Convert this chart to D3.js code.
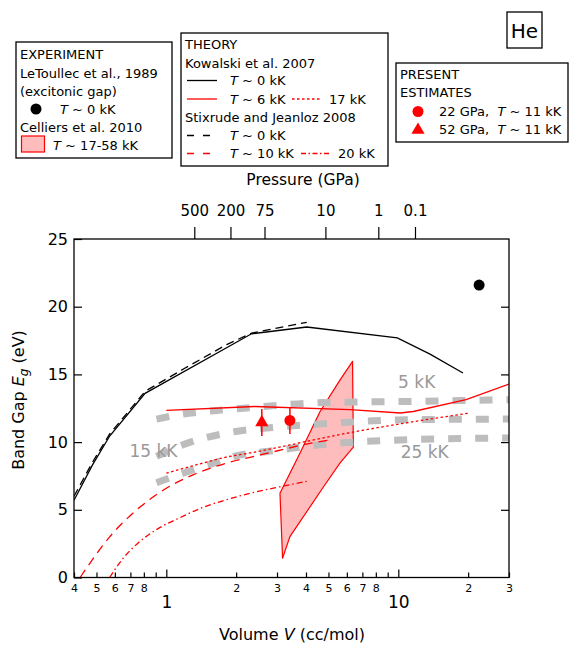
<!DOCTYPE html>
<html>
<head>
<meta charset="utf-8">
<script src="https://cdn.jsdelivr.net/npm/d3@7"></script>
<style>
  body { margin: 0; background: #fff; }
  text { font-family: "DejaVu Sans", sans-serif; }
</style>
</head>
<body>
<script>
// ---- data ----
// Kowalski et al. 2007, T ~ 0 kK (solid black)
var kow0V = [0.4, 0.48, 0.57, 0.81, 2.33, 4.03, 9.9, 13.7, 19.0];
var kow0E = [5.7, 8.3, 10.45, 13.6, 18.0, 18.5, 17.7, 16.5, 15.1];
// Stixrude and Jeanloz 2008, T ~ 0 kK (dashed black)
var stx0V = [0.4, 0.48, 0.57, 0.81, 1.2, 1.82, 2.33, 4.03];
var stx0E = [6.0, 8.5, 10.6, 13.75, 15.45, 17.2, 18.05, 18.85];
// Kowalski T ~ 6 kK (solid red)
var kow6V = [1.0, 2.4, 6.2, 10.2, 11.6, 19.6, 30];
var kow6E = [12.35, 12.63, 12.4, 12.15, 12.26, 13.13, 14.29];
// Kowalski T ~ 17 kK (dotted red)
var kow17V = [1.0, 1.4, 1.82, 2.3, 4.16, 6.2, 10.2, 20.4];
var kow17E = [7.7, 8.4, 8.9, 9.2, 10.1, 10.7, 11.35, 12.15];
// Stixrude T ~ 10 kK (dashed red)
var stx10V = [0.425, 0.57, 0.77, 0.94, 1.31, 1.82, 2.54, 4.16, 5.0];
var stx10E = [0.0, 3.0, 5.2, 6.3, 7.6, 8.45, 9.05, 9.9, 10.15];
// Stixrude T ~ 20 kK (dash-dot red)
var stx20V = [0.57, 0.65, 0.75, 0.94, 1.14, 1.4, 1.82, 2.4, 3.09, 4.03];
var stx20E = [0.0, 1.4, 2.5, 3.7, 4.4, 5.1, 5.75, 6.3, 6.7, 7.1];
// grey isotherms
var iso5V = [0.907, 1.18, 1.65, 2.15, 2.8, 3.65, 4.74, 10.8, 30];
var iso5E = [11.7, 12.07, 12.34, 12.5, 12.67, 12.82, 12.92, 13.0, 13.13];
var iso15V = [0.907, 1.18, 1.99, 2.71, 4.74, 10.8, 30];
var iso15E = [8.94, 9.8, 10.78, 11.04, 11.35, 11.65, 11.7];
var iso25V = [0.907, 1.18, 1.6, 2.09, 2.71, 3.52, 4.63, 10.8, 30];
var iso25E = [7.0, 7.7, 8.45, 9.06, 9.3, 9.56, 9.8, 10.17, 10.3];
var isoLabels = ["5 kK", "15 kK", "25 kK"];
var isoLabelV = [12.0, 0.88, 13.0];
var isoLabelE = [14.0, 8.9, 8.85];
// Celliers et al. 2010 region
var cellV = [6.35, 6.4, 5.6, 4.77, 3.41, 3.17, 3.09, 3.77, 4.6, 5.61];
var cellE = [15.96, 9.63, 8.45, 6.72, 3.02, 1.42, 6.23, 9.19, 12.26, 14.6];
// LeToullec excitonic gap
var exptV = [22.3];
var exptE = [21.6];
// present estimates: circle 22 GPa, triangle 52 GPa
var estV = [3.41, 2.58];
var estE = [11.6, 11.45];
var estErr = [1.0, 1.0];
var estShape = ["circle", "triangle"];
// axis ticks
var yTicks = [0, 5, 10, 15, 20, 25];
var volMinor = [0.4, 0.5, 0.6, 0.7, 0.8, 0.9, 2, 3, 4, 5, 6, 7, 8, 9, 20, 30];
var volMajor = [1, 10];
var pressLabels = ["500", "200", "75", "10", "1", "0.1"];
var pressVol = [1.32, 1.89, 2.65, 4.85, 8.2, 11.8];

var W = 571, H = 658;
var svg = d3.select("body").append("svg").attr("width", W).attr("height", H);

var x = d3.scaleLog().domain([0.4, 30]).range([74, 509]);
var y = d3.scaleLinear().domain([0, 25]).range([577.5, 239]);

var red = "#ff0000";

function pts(vs, es) { return vs.map(function(v, i) { return [v, es[i]]; }); }

svg.append("clipPath").attr("id", "clip")
  .append("rect").attr("x", 74).attr("y", 239).attr("width", 435).attr("height", 338.5);

var plot = svg.append("g").attr("clip-path", "url(#clip)");

var lineLin = d3.line().x(function(d) { return x(d[0]); }).y(function(d) { return y(d[1]); });
var lineSmooth = d3.line().curve(d3.curveMonotoneX)
  .x(function(d) { return x(d[0]); }).y(function(d) { return y(d[1]); });

// Celliers region
plot.append("path")
  .attr("d", lineLin(pts(cellV, cellE)) + "Z")
  .attr("fill", "#ffbcbc")
  .attr("stroke", red)
  .attr("stroke-width", 1.2)
  .attr("stroke-linejoin", "round");

// grey isotherms
[[iso5V, iso5E], [iso15V, iso15E], [iso25V, iso25E]].forEach(function(s) {
  plot.append("path")
    .attr("d", lineSmooth(pts(s[0], s[1])))
    .attr("fill", "none")
    .attr("stroke", "#bdbdbd")
    .attr("stroke-width", 7)
    .attr("stroke-dasharray", "13,14");
});
isoLabels.forEach(function(t, i) {
  svg.append("text")
    .attr("x", x(isoLabelV[i])).attr("y", y(isoLabelE[i]))
    .attr("text-anchor", "middle")
    .style("font-size", "17px")
    .attr("fill", "#999")
    .text(t);
});

// theory curves
var curves = [
  {v: kow0V, e: kow0E, c: "#000", dash: null, smooth: false},
  {v: stx0V, e: stx0E, c: "#000", dash: "8,5", smooth: false},
  {v: kow6V, e: kow6E, c: red, dash: null, smooth: false},
  {v: kow17V, e: kow17E, c: red, dash: "2.5,2.5", smooth: true},
  {v: stx10V, e: stx10E, c: red, dash: "9,6", smooth: true},
  {v: stx20V, e: stx20E, c: red, dash: "6,3,1.5,3", smooth: true}
];
curves.forEach(function(s) {
  plot.append("path")
    .attr("d", (s.smooth ? lineSmooth : lineLin)(pts(s.v, s.e)))
    .attr("fill", "none")
    .attr("stroke", s.c)
    .attr("stroke-width", 1.3)
    .attr("stroke-dasharray", s.dash);
});

// experiment point
plot.selectAll(".expt").data(pts(exptV, exptE)).enter().append("circle")
  .attr("cx", function(d) { return x(d[0]); })
  .attr("cy", function(d) { return y(d[1]); })
  .attr("r", 5.5).attr("fill", "#000");

// present estimates with error bars
estV.forEach(function(v, i) {
  plot.append("line")
    .attr("x1", x(v)).attr("x2", x(v))
    .attr("y1", y(estE[i] - estErr[i])).attr("y2", y(estE[i] + estErr[i]))
    .attr("stroke", red).attr("stroke-width", 1.5);
  if (estShape[i] == "circle") {
    plot.append("circle").attr("cx", x(v)).attr("cy", y(estE[i])).attr("r", 5.5).attr("fill", red);
  } else {
    plot.append("path")
      .attr("d", d3.symbol().type(d3.symbolTriangle).size(75)())
      .attr("transform", "translate(" + x(v) + "," + y(estE[i]) + ")")
      .attr("fill", red);
  }
});

// frame
svg.append("rect").attr("x", 74).attr("y", 239).attr("width", 435).attr("height", 338.5)
  .attr("fill", "none").attr("stroke", "#000").attr("stroke-width", 1.3);

// left axis
var gl = svg.append("g").attr("transform", "translate(74,0)")
  .call(d3.axisLeft(y).tickValues(yTicks).tickSize(-8).tickPadding(6));
gl.selectAll("text").style("font-size", "16px").attr("font-family", "DejaVu Sans");
// right axis
svg.append("g").attr("transform", "translate(509,0)")
  .call(d3.axisRight(y).tickValues(yTicks.slice(1, -1)).tickSize(-8).tickFormat(""));

// bottom axis: minor ticks with small digits
var gbm = svg.append("g").attr("transform", "translate(0,577.5)")
  .call(d3.axisBottom(x).tickValues(volMinor).tickSize(-5).tickPadding(6.5)
    .tickFormat(function(v) {
      if (v == 0.9 || v == 9) return "";
      var p = Math.pow(10, Math.floor(Math.log10(v) + 1e-9));
      return String(Math.round(v / p));
    }));
gbm.selectAll("text").style("font-size", "11px").attr("font-family", "DejaVu Sans");
// bottom axis: decades
var gbM = svg.append("g").attr("transform", "translate(0,577.5)")
  .call(d3.axisBottom(x).tickValues(volMajor).tickSize(-8).tickPadding(18)
    .tickFormat(function(v) { return String(v); }));
gbM.selectAll("text").style("font-size", "17px").attr("font-family", "DejaVu Sans");

// top pressure axis
var gt = svg.append("g").attr("transform", "translate(0,239)")
  .call(d3.axisTop(x).tickValues(pressVol).tickSize(12).tickPadding(11)
    .tickFormat(function(v, i) { return pressLabels[i]; }));
gt.selectAll("text").style("font-size", "15px").attr("font-family", "DejaVu Sans");

svg.selectAll(".domain").remove();
svg.selectAll(".tick line").attr("stroke", "#000").attr("stroke-width", 1.2);
svg.selectAll(".tick text").attr("fill", "#000");

// axis titles
svg.append("text").attr("x", 303).attr("y", 185).attr("text-anchor", "middle")
  .style("font-size", "15.5px").text("Pressure (GPa)");

var xt = svg.append("text").attr("x", 292).attr("y", 640).attr("text-anchor", "middle")
  .style("font-size", "16px");
xt.append("tspan").text("Volume ");
xt.append("tspan").attr("font-style", "italic").text("V");
xt.append("tspan").text(" (cc/mol)");

var yt = svg.append("text").attr("transform", "translate(24,400) rotate(-90)")
  .attr("text-anchor", "middle").style("font-size", "16px");
yt.append("tspan").text("Band Gap ");
yt.append("tspan").attr("font-style", "italic").text("E");
yt.append("tspan").attr("font-style", "italic").attr("dy", 4).style("font-size", "12px").text("g");
yt.append("tspan").attr("dy", -4).text(" (eV)");

// ---- legends ----
function tline(g, xx, yy, parts) {
  var t = g.append("text").attr("x", xx).attr("y", yy).style("font-size", "13px")
    .style("white-space", "pre");
  parts.forEach(function(p) {
    var s = t.append("tspan").text(p[0]);
    if (p[1]) s.attr("font-style", "italic");
  });
  return t;
}

// EXPERIMENT
var l1 = svg.append("g");
l1.append("rect").attr("x", 16).attr("y", 42).attr("width", 156).attr("height", 116)
  .attr("fill", "#fff").attr("stroke", "#000").attr("stroke-width", 1.3);
tline(l1, 20, 59, [["EXPERIMENT"]]);
tline(l1, 20, 77.5, [["LeToullec et al., 1989"]]);
tline(l1, 20, 95.5, [["(excitonic gap)"]]);
l1.append("circle").attr("cx", 36).attr("cy", 109).attr("r", 5.5).attr("fill", "#000");
tline(l1, 60, 113.5, [["T", 1], [" ~ 0 kK"]]);
tline(l1, 20, 131.5, [["Celliers et al. 2010"]]);
l1.append("rect").attr("x", 21.5).attr("y", 136).attr("width", 23).attr("height", 16)
  .attr("fill", "#ffbcbc").attr("stroke", red).attr("stroke-width", 1.2);
tline(l1, 53, 150, [["T", 1], [" ~ 17-58 kK"]]);

// THEORY
var l2 = svg.append("g");
l2.append("rect").attr("x", 181).attr("y", 33).attr("width", 207).attr("height", 133)
  .attr("fill", "#fff").attr("stroke", "#000").attr("stroke-width", 1.3);
tline(l2, 185, 49, [["THEORY"]]);
tline(l2, 185, 67.5, [["Kowalski et al. 2007"]]);
function sample(g, x1, x2, yy, c, dash) {
  g.append("line").attr("x1", x1).attr("x2", x2).attr("y1", yy).attr("y2", yy)
    .attr("stroke", c).attr("stroke-width", 1.3).attr("stroke-dasharray", dash);
}
sample(l2, 187, 217, 80.5, "#000", null);
tline(l2, 230, 85, [["T", 1], [" ~ 0 kK"]]);
sample(l2, 187, 217, 99, red, null);
tline(l2, 230, 103.5, [["T", 1], [" ~ 6 kK"]]);
sample(l2, 292, 322, 99, red, "2.5,2.5");
tline(l2, 329, 103.5, [["17 kK"]]);
tline(l2, 185, 121.5, [["Stixrude and Jeanloz 2008"]]);
sample(l2, 187, 217, 135.5, "#000", "7,9");
tline(l2, 230, 140, [["T", 1], [" ~ 0 kK"]]);
sample(l2, 187, 217, 153.5, red, "7,9");
tline(l2, 230, 158, [["T", 1], [" ~ 10 kK"]]);
sample(l2, 301, 331, 153.5, red, "5,2.5,1.5,2.5");
tline(l2, 338, 158, [["20 kK"]]);

// PRESENT ESTIMATES
var l3 = svg.append("g");
l3.append("rect").attr("x", 396).attr("y", 63).attr("width", 172).attr("height", 79)
  .attr("fill", "#fff").attr("stroke", "#000").attr("stroke-width", 1.3);
tline(l3, 400, 79, [["PRESENT"]]);
tline(l3, 400, 97, [["ESTIMATES"]]);
l3.append("circle").attr("cx", 418).attr("cy", 111.5).attr("r", 5.5).attr("fill", red);
tline(l3, 439, 116, [["22 GPa,\u00a0\u00a0"], ["T", 1], [" ~ 11 kK"]]);
l3.append("path")
  .attr("d", d3.symbol().type(d3.symbolTriangle).size(75)())
  .attr("transform", "translate(418,130)").attr("fill", red);
tline(l3, 439, 134, [["52 GPa,\u00a0\u00a0"], ["T", 1], [" ~ 11 kK"]]);

// element box
svg.append("rect").attr("x", 507).attr("y", 12).attr("width", 35).attr("height", 36)
  .attr("fill", "#fff").attr("stroke", "#000").attr("stroke-width", 1.3);
svg.append("text").attr("x", 524.5).attr("y", 37.5).attr("text-anchor", "middle")
  .style("font-size", "20px").text("He");
</script>
</body>
</html>
